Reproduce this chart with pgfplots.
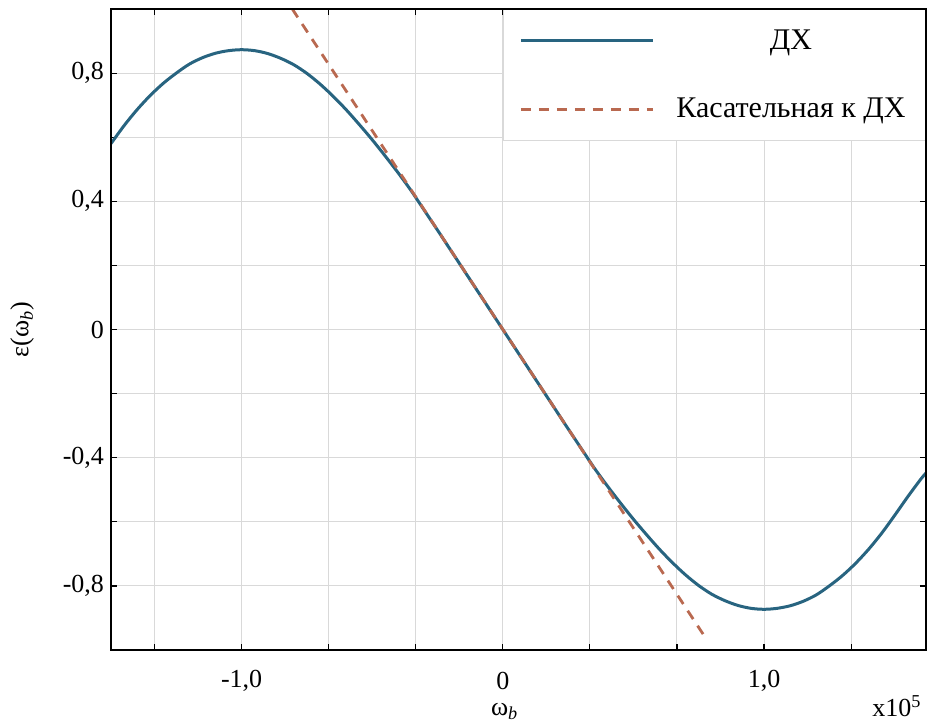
\documentclass[border=0pt]{standalone}
\usepackage{fontspec}
\setmainfont{Liberation Serif}
\usepackage{pgfplots}
\pgfplotsset{compat=1.18}
\definecolor{dxblue}{RGB}{40,100,128}
\definecolor{tanred}{RGB}{185,105,80}
\begin{document}
\begin{tikzpicture}
\begin{axis}[
 name=ax,
 scale only axis,
 width=407.5pt, height=320.5pt,
 xmin=-1.5, xmax=1.62, ymin=-1, ymax=1,
 xtick={-1.3333,-1,-0.6667,-0.3333,0,0.3333,0.6667,1,1.3333},
 xticklabels={,{-1,0},,,0,,,{1,0},},
 ytick={-0.8,-0.6,-0.4,-0.2,0,0.2,0.4,0.6,0.8},
 yticklabels={{-0,8},,{-0,4},,0,,{0,4},,{0,8}},
 tick align=inside,
 major tick length=3pt,
 tick style={black, line width=0.6pt},
 grid=major,
 grid style={gray!30, line width=0.5pt},
 axis line style={black, line width=0.8pt},
 ticklabel style={font=\fontsize{13}{15}\selectfont},
 xticklabel style={anchor=center, yshift=-15.5pt, inner sep=0.5pt},
 xlabel={ω\textsubscript{\itshape b}},
 ylabel={ε(ω\textsubscript{\itshape b})},
 label style={font=\fontsize{13}{15}\selectfont},
 xlabel style={at={(axis description cs:0.483,-0.0955)}, anchor=center, inner sep=0pt},
 ylabel style={at={(axis description cs:-0.109,0.5)}, anchor=center},
 legend style={at={(1,1)}, anchor=north east, draw=gray!30, line width=0.5pt, fill=white,
   font=\fontsize{15}{18}\selectfont, inner xsep=8pt, inner ysep=8pt, row sep=19pt},
 legend cell align=center,
 legend image code/.code={\draw[#1] (0pt,0pt) -- (66pt,0pt); \path (75pt,0pt);},
]
\addplot[dxblue, line width=1.5pt, smooth] coordinates {
(-1.5,0.580) (-1.45,0.636) (-1.4,0.686) (-1.35,0.730) (-1.3,0.768) (-1.25,0.800)
(-1.2,0.828) (-1.15,0.848) (-1.1,0.862) (-1.05,0.870) (-1.0,0.873) (-0.95,0.870)
(-0.9,0.861) (-0.85,0.846) (-0.8,0.826) (-0.75,0.799) (-0.7,0.766) (-0.65,0.728)
(-0.6,0.686) (-0.55,0.640) (-0.5,0.592) (-0.45,0.541) (-0.4,0.488) (-0.35,0.432)
(-0.3,0.371) (-0.25,0.310) (-0.2,0.248) (-0.15,0.186) (-0.1,0.124) (-0.05,0.062)
(0,0) (0.05,-0.062) (0.1,-0.124) (0.15,-0.186) (0.2,-0.248) (0.25,-0.310)
(0.3,-0.371) (0.35,-0.432) (0.4,-0.488) (0.45,-0.541) (0.5,-0.592) (0.55,-0.640)
(0.6,-0.686) (0.65,-0.728) (0.7,-0.766) (0.75,-0.799) (0.8,-0.826) (0.85,-0.846)
(0.9,-0.861) (0.95,-0.870) (1.0,-0.873) (1.05,-0.870) (1.1,-0.862) (1.15,-0.848)
(1.2,-0.828) (1.25,-0.800) (1.3,-0.768) (1.35,-0.730) (1.4,-0.686) (1.45,-0.636)
(1.5,-0.580) (1.55,-0.522) (1.6,-0.467) (1.62,-0.448)
};
\addlegendentry{ДХ}
\addplot[tanred, line width=1.4pt, dash pattern=on 5pt off 4pt] coordinates {
(-0.806,1.0) (0.78,-0.967)
};
\addlegendentry{Касательная к ДХ}
\end{axis}
\draw[black, line width=0.8pt] (ax.south west) rectangle (ax.north east);
\node[font=\fontsize{13}{15}\selectfont, anchor=center] at ([xshift=-14.5pt,yshift=-28pt]ax.south east) {x10\textsuperscript{5}};
\path ([shift={(-55.5pt,-37pt)}]ax.south west) rectangle ([shift={(3.5pt,4.5pt)}]ax.north east);
\end{tikzpicture}
\end{document}
